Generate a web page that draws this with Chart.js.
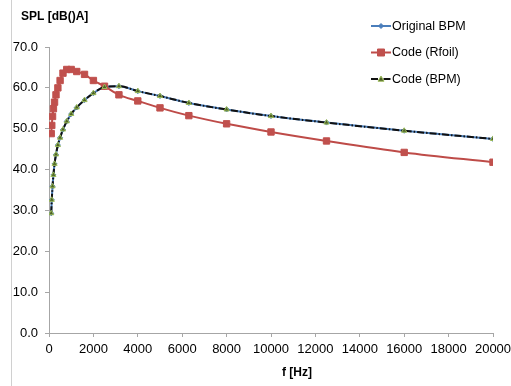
<!DOCTYPE html>
<html>
<head>
<meta charset="utf-8">
<script src="https://cdn.jsdelivr.net/npm/chart.js@4"></script>
<style>
  html, body { margin: 0; padding: 0; background: #fff; }
  #wrap { width: 511px; height: 386px; }
</style>
</head>
<body>
<div id="wrap"><canvas id="spl-chart" width="511" height="386"></canvas></div>
<script>
// 1/3 octave band centre frequencies [Hz]
const freqHz = [100, 125, 160, 200, 250, 315, 400, 500, 630, 800, 1000, 1250, 1600, 2000, 2500, 3150, 4000, 5000, 6300, 8000, 10000, 12500, 16000, 20000];

// SPL values [dB(A)]
const originalBpm = [29.3, 32.6, 35.9, 38.7, 41.4, 43.7, 46.0, 47.8, 49.8, 51.8, 53.6, 55.2, 57.0, 58.7, 60.2, 60.4, 59.2, 58.0, 56.3, 54.7, 53.1, 51.5, 49.5, 47.5];
const codeRfoil   = [48.8, 50.8, 53.0, 54.9, 56.5, 58.3, 60.0, 61.8, 63.6, 64.5, 64.5, 64.0, 63.3, 61.8, 60.4, 58.3, 56.8, 55.1, 53.2, 51.2, 49.2, 47.0, 44.2, 41.8];
const codeBpm     = [29.3, 32.6, 35.9, 38.7, 41.4, 43.7, 46.0, 47.8, 49.8, 51.8, 53.6, 55.2, 57.0, 58.7, 60.2, 60.4, 59.2, 58.0, 56.3, 54.7, 53.1, 51.5, 49.5, 47.5];

const seriesNames = ['Original BPM', 'Code (Rfoil)', 'Code (BPM)'];
const xTicks = { min: 0, max: 20000, step: 2000 };
const yTicks = { min: 0, max: 70, step: 10 };
const yTitle = 'SPL [dB()A]';
const xTitle = 'f [Hz]';

const FONT = "'Liberation Sans', Arial, sans-serif";
const AXIS_GREY = '#a6a6a6';

function toPoints(values) {
    return freqHz.map((f, i) => ({ x: f, y: values[i] }));
}

// little marker shapes, used for the legend
function drawMarker(ctx, style, x, y) {
    ctx.beginPath();
    if (style === 'rect') {
        ctx.rect(x - 3.5, y - 3.5, 7, 7);
    } else if (style === 'rectRot') {
        ctx.moveTo(x, y - 2.5); ctx.lineTo(x + 2.5, y); ctx.lineTo(x, y + 2.5); ctx.lineTo(x - 2.5, y);
        ctx.closePath();
    } else if (style === 'triangle') {
        ctx.moveTo(x, y - 3); ctx.lineTo(x + 3, y + 2.2); ctx.lineTo(x - 3, y + 2.2);
        ctx.closePath();
    }
    ctx.fill();
    ctx.stroke();
}

const annotationsPlugin = {
    id: 'excelLook',
    beforeDraw(chart) {
        const ctx = chart.ctx;
        ctx.save();
        // frame edge on the left
        ctx.strokeStyle = '#d0d0d0';
        ctx.lineWidth = 1;
        ctx.beginPath();
        ctx.moveTo(11.5, 0);
        ctx.lineTo(11.5, chart.height);
        ctx.stroke();
        ctx.restore();
    },
    afterDraw(chart) {
        const ctx = chart.ctx;
        ctx.save();
        // axis titles
        ctx.fillStyle = '#000';
        ctx.font = 'bold 12px ' + FONT;
        ctx.textBaseline = 'middle';
        ctx.textAlign = 'left';
        ctx.fillText(yTitle, 21, 17);
        ctx.textAlign = 'center';
        ctx.fillText(xTitle, 297, 373);

        // legend
        ctx.font = '12.5px ' + FONT;
        ctx.textAlign = 'left';
        chart.data.datasets.forEach((ds, i) => {
            const y = 26 + i * 26.5;
            ctx.strokeStyle = ds.borderColor;
            ctx.lineWidth = 2;
            ctx.setLineDash(ds.borderDash || []);
            ctx.beginPath();
            ctx.moveTo(371, y);
            ctx.lineTo(391, y);
            ctx.stroke();
            ctx.setLineDash([]);
            ctx.fillStyle = ds.pointBackgroundColor;
            ctx.strokeStyle = ds.pointBorderColor;
            ctx.lineWidth = 1;
            drawMarker(ctx, ds.pointStyle, 381, y);
            ctx.fillStyle = '#000';
            ctx.fillText(ds.label, 392, y + 0.5);
        });
        ctx.restore();
    }
};

const ctx = document.getElementById('spl-chart').getContext('2d');

new Chart(ctx, {
    type: 'line',
    data: {
        datasets: [
            {
                label: seriesNames[0],
                data: toPoints(originalBpm),
                borderColor: '#4A7EBB',
                borderWidth: 2,
                pointStyle: 'rectRot',
                pointRadius: 2.5,
                pointBackgroundColor: '#4A7EBB',
                pointBorderColor: '#4A7EBB',
                pointBorderWidth: 1,
                cubicInterpolationMode: 'monotone',
                order: 3
            },
            {
                label: seriesNames[1],
                data: toPoints(codeRfoil),
                borderColor: '#BE4B48',
                borderWidth: 2,
                pointStyle: 'rect',
                pointRadius: 4.5,
                pointBackgroundColor: '#C0504D',
                pointBorderColor: '#C0504D',
                pointBorderWidth: 1,
                cubicInterpolationMode: 'monotone',
                order: 2
            },
            {
                label: seriesNames[2],
                data: toPoints(codeBpm),
                borderColor: '#111111',
                borderWidth: 2,
                borderDash: [7, 2, 1.5, 2],
                pointStyle: 'triangle',
                pointRadius: 3,
                pointBackgroundColor: '#4F6228',
                pointBorderColor: '#9BBB59',
                pointBorderWidth: 1,
                cubicInterpolationMode: 'monotone',
                order: 1
            }
        ]
    },
    options: {
        responsive: false,
        animation: false,
        layout: { padding: { top: 47, right: 18, bottom: 0, left: 0 } },
        plugins: {
            legend: { display: false },
            title: { display: false },
            tooltip: { enabled: false }
        },
        scales: {
            x: {
                type: 'linear',
                min: xTicks.min,
                max: xTicks.max,
                afterFit(scale) {
                    scale.height = 53;
                    scale.paddingLeft = 0;
                    scale.paddingRight = 18;
                },
                ticks: {
                    stepSize: xTicks.step,
                    color: '#000',
                    font: { family: FONT, size: 13 },
                    padding: 5,
                    maxRotation: 0,
                    autoSkip: false,
                    callback: v => String(v)
                },
                grid: { drawOnChartArea: false, drawTicks: true, tickLength: 4, color: AXIS_GREY },
                border: { color: AXIS_GREY }
            },
            y: {
                min: yTicks.min,
                max: yTicks.max,
                afterFit(scale) { scale.width = 49; },
                ticks: {
                    stepSize: yTicks.step,
                    color: '#000',
                    font: { family: FONT, size: 13 },
                    padding: 7,
                    callback: v => v.toFixed(1)
                },
                grid: { drawOnChartArea: false, drawTicks: true, tickLength: 4, color: AXIS_GREY },
                border: { color: AXIS_GREY }
            }
        }
    },
    plugins: [annotationsPlugin]
});
</script>
</body>
</html>
